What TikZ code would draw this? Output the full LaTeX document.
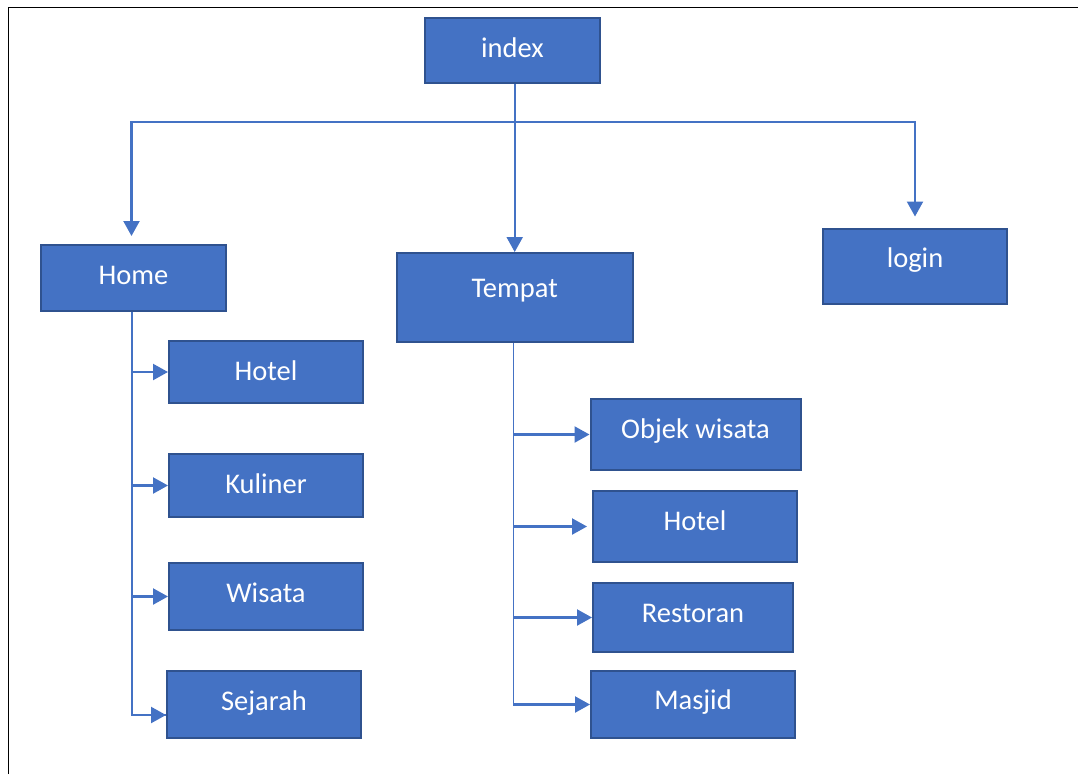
\documentclass[tikz,border=0pt]{standalone}
\usepackage{fontspec}
\setmainfont{Carlito}
\usetikzlibrary{arrows.meta}
\definecolor{boxfill}{HTML}{4472C4}
\definecolor{boxline}{HTML}{2F528F}
\begin{document}
\begin{tikzpicture}[x=1pt,y=-1pt,
  pagebox/.style={draw=black,line width=1.5pt},
  menubox/.style={rectangle,fill=boxfill,draw=boxline,line width=2pt,
    inner sep=0pt,text=white,font=\fontsize{28.5}{34}\selectfont,
    text height=21pt,text depth=9pt},
  tdep/.style={text depth=#1pt},
  conn/.style={draw=boxfill,line width=2.2pt,-{Triangle[length=15pt,width=16pt]}},
  trunk/.style={draw=boxfill,line width=2.2pt},
  thintrunk/.style={draw=boxfill,line width=0.9pt}]
\useasboundingbox (0,0) rectangle (1078,774);
% page frame (top and left edges only)
\draw[pagebox] (8.3,774) -- (8.3,7.3) -- (1078,7.3);

% top level
\node[menubox,minimum width=175pt,minimum height=65pt,tdep=7.4] (index) at (512.5,50.5) {index};
\node[menubox,minimum width=185pt,minimum height=66pt,tdep=9] (home) at (133.5,278) {Home};
\node[menubox,minimum width=236pt,minimum height=89pt,tdep=21] (tempat) at (514.7,297.5) {Tempat};
\node[menubox,minimum width=184pt,minimum height=75pt,tdep=17.6] (login) at (915,266) {login};

% Home children
\node[menubox,minimum width=194pt,minimum height=62pt,tdep=3.6] (hotelA) at (266,372) {Hotel};
\node[menubox,minimum width=194pt,minimum height=63pt,tdep=5.4] (kuliner) at (266,485.5) {Kuliner};
\node[menubox,minimum width=194pt,minimum height=67pt,tdep=9.4] (wisata) at (266,596.5) {Wisata};
\node[menubox,minimum width=194pt,minimum height=67pt,tdep=8.6] (sejarah) at (264,704.5) {Sejarah};

% Tempat children
\node[menubox,minimum width=210pt,minimum height=71pt,tdep=13.4] (objek) at (695.5,434.5) {Objek wisata};
\node[menubox,minimum width=204pt,minimum height=71pt,tdep=14] (hotelB) at (695,526.5) {Hotel};
\node[menubox,minimum width=200pt,minimum height=69pt,tdep=11.4] (restoran) at (693,617.5) {Restoran};
\node[menubox,minimum width=204pt,minimum height=67pt,tdep=11.4] (masjid) at (693,704.5) {Masjid};

% index to the three top-level pages
\coordinate (bus) at (515.5,122);
\draw[conn] (tempat.north |- index.south) -- (tempat.north);
\draw[conn,shorten >=8pt] (bus) -| ([xshift=-2pt]home.north);
\draw[conn,shorten >=11pt] (bus) -| (login.north);

% Home submenu
\coordinate (hroot) at ([xshift=-1.8pt]home.south);
\draw[trunk] (hroot) |- ([yshift=-10.5pt]sejarah.west) coordinate (hend);
\draw[conn] (hroot |- hotelA.west) -- (hotelA.west);
\draw[conn] (hroot |- kuliner.west) -- (kuliner.west);
\draw[conn] (hroot |- wisata.west) -- (wisata.west);
\draw[conn] ([xshift=-14pt]sejarah.west |- hend) -- (sejarah.west |- hend);

% Tempat submenu
\coordinate (troot) at ([xshift=-1.4pt]tempat.south);
\draw[thintrunk] (troot) -- (troot |- masjid.west);
\draw[conn] (troot |- objek.west) -- (objek.west);
\draw[conn,shorten >=5pt] (troot |- hotelB.west) -- (hotelB.west);
\draw[conn] (troot |- restoran.west) -- (restoran.west);
\draw[conn] (troot |- masjid.west) -- (masjid.west);
\end{tikzpicture}
\end{document}
